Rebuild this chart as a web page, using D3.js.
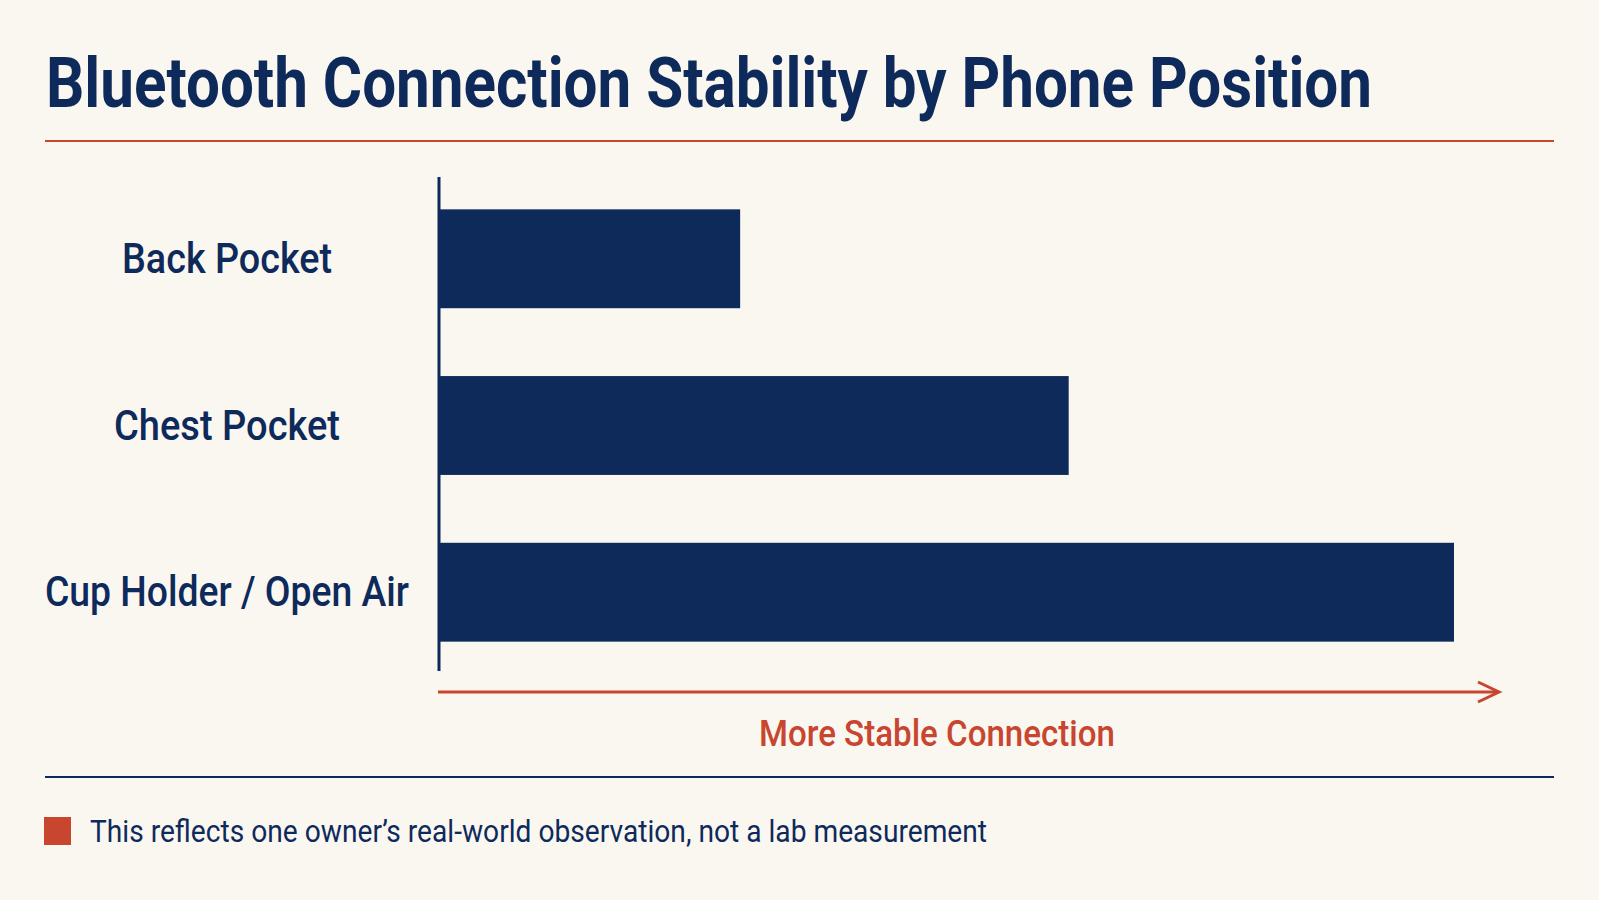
<!DOCTYPE html>
<html>
<head>
<meta charset="utf-8">
<script src="https://cdn.jsdelivr.net/npm/d3@7"></script>
<style>
  body { margin: 0; background: #faf7f1; }
  svg { display: block; }
</style>
</head>
<body>
<div id="chart"></div>
<script>
// data
var positions = ["Back Pocket", "Chest Pocket", "Cup Holder / Open Air"];
var stability = [29.6, 62, 100];
var titleText = "Bluetooth Connection Stability by Phone Position";
var axisLabel = "More Stable Connection";
var noteText = "This reflects one owner\u2019s real-world observation, not a lab measurement";

var width = 1599, height = 900;
var navy = "#0e2a5b", red = "#c8452f";

var xscale = d3.scaleLinear()
    .domain([0, 100])
    .range([440, 1454]);

var yscale = d3.scaleBand()
    .domain(positions)
    .range([176, 675])
    .paddingInner(0.407)
    .paddingOuter(0.2);

const svg = d3.select("#chart").append("svg")
    .attr("width", width)
    .attr("height", height)
    .style("font-family", "Roboto, 'Noto Sans', sans-serif");

svg.append("rect")
    .attr("width", width)
    .attr("height", height)
    .attr("fill", "#faf7f1");

// title + rule
svg.append("text")
    .attr("x", 46)
    .attr("y", 107)
    .attr("font-size", "70px")
    .attr("font-weight", 700)
    .attr("fill", navy)
    .attr("textLength", 1326)
    .attr("lengthAdjust", "spacingAndGlyphs")
    .text(titleText);

svg.append("line")
    .attr("x1", 45).attr("x2", 1554)
    .attr("y1", 141).attr("y2", 141)
    .attr("stroke", red)
    .attr("stroke-width", 2);

// bars
svg.selectAll("rect.bar")
    .data(positions)
    .join("rect")
    .attr("class", "bar")
    .attr("x", xscale(0))
    .attr("y", function(d) { return yscale(d); })
    .attr("width", function(d, i) { return xscale(stability[i]) - xscale(0); })
    .attr("height", yscale.bandwidth())
    .attr("fill", navy);

// category labels (centred)
var labelWidths = [210, 226, 364];
svg.selectAll("text.cat")
    .data(positions)
    .join("text")
    .attr("class", "cat")
    .attr("x", 227)
    .attr("y", function(d) { return yscale(d) + yscale.bandwidth() / 2 + 14; })
    .attr("text-anchor", "middle")
    .attr("font-size", "42px")
    .attr("font-weight", 500)
    .attr("fill", navy)
    .attr("textLength", function(d, i) { return labelWidths[i]; })
    .attr("lengthAdjust", "spacingAndGlyphs")
    .text(function(d) { return d; });

// vertical axis line
svg.append("line")
    .attr("x1", 439).attr("x2", 439)
    .attr("y1", 177).attr("y2", 671)
    .attr("stroke", navy)
    .attr("stroke-width", 3);

// arrow
svg.append("line")
    .attr("x1", 438).attr("x2", 1498)
    .attr("y1", 692).attr("y2", 692)
    .attr("stroke", red)
    .attr("stroke-width", 3);

svg.append("path")
    .attr("d", "M1478,682 L1499,692 L1478,702")
    .attr("fill", "none")
    .attr("stroke", red)
    .attr("stroke-width", 3)
    .attr("stroke-linejoin", "miter");

svg.append("text")
    .attr("x", 937)
    .attr("y", 746)
    .attr("text-anchor", "middle")
    .attr("font-size", "37px")
    .attr("font-weight", 500)
    .attr("fill", red)
    .attr("textLength", 356)
    .attr("lengthAdjust", "spacingAndGlyphs")
    .text(axisLabel);

// bottom rule + note
svg.append("line")
    .attr("x1", 45).attr("x2", 1554)
    .attr("y1", 777).attr("y2", 777)
    .attr("stroke", navy)
    .attr("stroke-width", 2);

svg.append("rect")
    .attr("x", 44).attr("y", 817)
    .attr("width", 27).attr("height", 28)
    .attr("fill", red);

svg.append("text")
    .attr("x", 90)
    .attr("y", 842)
    .attr("font-size", "31px")
    .attr("font-weight", 400)
    .attr("fill", navy)
    .attr("textLength", 897)
    .attr("lengthAdjust", "spacingAndGlyphs")
    .text(noteText);
</script>
</body>
</html>
